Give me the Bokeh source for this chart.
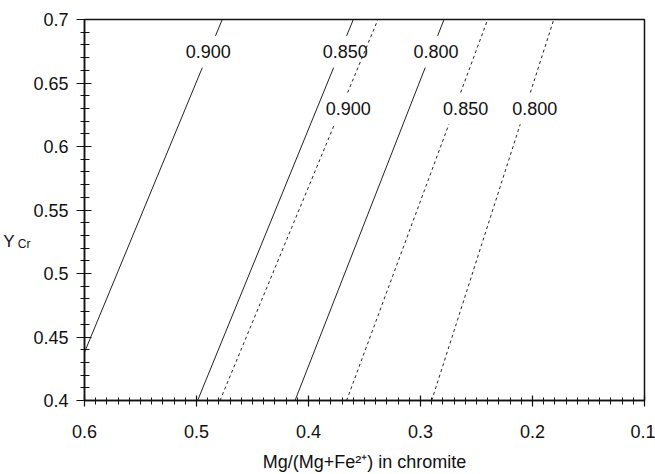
import numpy as np
from bokeh.plotting import figure
from bokeh.models import Range1d, FixedTicker, LinearAxis, ColumnDataSource
from bokeh.core.properties import value
from bokeh.embed import file_html
from bokeh.resources import INLINE

# ---- data ----
levels = ["0.900", "0.850", "0.800"]
# solid isolines: bottom and top end points
solid_x_bottom = [0.600, 0.499, 0.412]
solid_y_bottom = [0.438, 0.400, 0.400]
solid_x_top = [0.477, 0.360, 0.279]
solid_y_top = [0.700, 0.700, 0.700]
# dotted isolines
dashed_x_bottom = [0.479, 0.366, 0.290]
dashed_y_bottom = [0.400, 0.400, 0.400]
dashed_x_top = [0.338, 0.240, 0.181]
dashed_y_top = [0.700, 0.700, 0.700]
# label positions
solid_label_x = [0.4895, 0.3672, 0.2862]
solid_label_y = [0.6746, 0.6746, 0.6746]
dashed_label_x = [0.3646, 0.2597, 0.198]
dashed_label_y = [0.630, 0.630, 0.630]

x_ticks = [0.6, 0.5, 0.4, 0.3, 0.2, 0.1]
x_tick_labels = ["0.6", "0.5", "0.4", "0.3", "0.2", "0.1"]
y_ticks = [0.4, 0.45, 0.5, 0.55, 0.6, 0.65, 0.7]
y_tick_labels = ["0.4", "0.45", "0.5", "0.55", "0.6", "0.65", "0.7"]
x_title = "Mg/(Mg+Fe\u00b2\u207a) in chromite"
y_title_main = "Y"
y_title_sub = "Cr"

FONT = "Liberation Sans"
GAP = 0.0125  # half-height of the break left in a line around its label

p = figure(width=655, height=474, output_backend="svg", toolbar_location=None,
           x_range=Range1d(0.6, 0.1), y_range=Range1d(0.4, 0.7),
           min_border_left=80, min_border_right=11, min_border_top=19, min_border_bottom=74)
p.xgrid.visible = False
p.ygrid.visible = False
p.outline_line_color = "#111111"
p.outline_line_width = 1.5
p.background_fill_color = "white"
p.border_fill_color = "white"


def broken(xb, yb, xt, yt, ly):
    y1, y2 = ly - GAP, ly + GAP
    x1 = float(np.interp(y1, [yb, yt], [xb, xt]))
    x2 = float(np.interp(y2, [yb, yt], [xb, xt]))
    return [[xb, x1], [x2, xt]], [[yb, y1], [y2, yt]]


sxs, sys_ = [], []
for i in range(3):
    a, b = broken(solid_x_bottom[i], solid_y_bottom[i], solid_x_top[i], solid_y_top[i], solid_label_y[i])
    sxs += a
    sys_ += b
dxs, dys = [], []
for i in range(3):
    a, b = broken(dashed_x_bottom[i], dashed_y_bottom[i], dashed_x_top[i], dashed_y_top[i], dashed_label_y[i])
    dxs += a
    dys += b

p.multi_line(sxs, sys_, line_color="#222222", line_width=1)
p.multi_line(dxs, dys, line_color="#222222", line_width=1, line_dash="3 3")

src = ColumnDataSource(dict(x=solid_label_x + dashed_label_x,
                            y=solid_label_y + dashed_label_y,
                            t=levels + levels))
p.text(x="x", y="y", text="t", source=src, text_font=value(FONT), text_font_size="18px",
       text_align="center", text_baseline="middle", text_color="#111111")

for ax, ticks, labels in ((p.xaxis[0], x_ticks, x_tick_labels), (p.yaxis[0], y_ticks, y_tick_labels)):
    ax.major_label_overrides = {t: l for t, l in zip(ticks, labels)}
    ax.major_label_text_font = FONT
    ax.major_label_text_font_size = "18px"
    ax.major_label_text_color = "#111111"
    ax.axis_line_color = "#111111"
    ax.axis_line_width = 1.5
    ax.major_tick_line_color = "#111111"
    ax.minor_tick_line_color = "#111111"
    ax.major_tick_line_width = 1.2
    ax.minor_tick_line_width = 1
    ax.axis_label_text_font = FONT
    ax.axis_label_text_font_style = "normal"
    ax.axis_label_text_color = "#111111"

p.xaxis.ticker = FixedTicker(ticks=x_ticks, minor_ticks=[round(0.1 + 0.01 * k, 2) for k in range(51)])
p.yaxis.ticker = FixedTicker(ticks=y_ticks, minor_ticks=[round(0.4 + 0.01 * k, 2) for k in range(31)])
p.xaxis.major_tick_in = 5
p.xaxis.major_tick_out = 6
p.xaxis.minor_tick_in = 3
p.xaxis.minor_tick_out = 4
p.xaxis.major_label_standoff = 18
p.xaxis.axis_label = x_title
p.xaxis.axis_label_text_font_size = "18px"
p.xaxis.axis_label_standoff = 11

p.yaxis.major_tick_in = 7
p.yaxis.major_tick_out = 8
p.yaxis.minor_tick_in = 5
p.yaxis.minor_tick_out = 4
p.yaxis.major_label_standoff = 8
p.yaxis.axis_label = "\n" + y_title_sub
p.yaxis.axis_label_text_font_size = "12px"
p.yaxis.axis_label_text_line_height = 4.8
p.yaxis.axis_label_orientation = "horizontal"
p.yaxis.axis_label_standoff = 0

ylab = LinearAxis(ticker=FixedTicker(ticks=[]), axis_line_color=None,
                  major_tick_line_color=None, minor_tick_line_color=None,
                  major_tick_out=0, major_tick_in=0, minor_tick_out=0, minor_tick_in=0,
                  major_label_standoff=0,
                  axis_label="\n" + y_title_main, axis_label_orientation="horizontal",
                  axis_label_standoff=0, axis_label_text_font=FONT,
                  axis_label_text_font_style="normal", axis_label_text_font_size="17px",
                  axis_label_text_line_height=3.3, axis_label_text_color="#111111")
p.add_layout(ylab, "left")

open("out.html", "w").write(file_html(p, INLINE))
